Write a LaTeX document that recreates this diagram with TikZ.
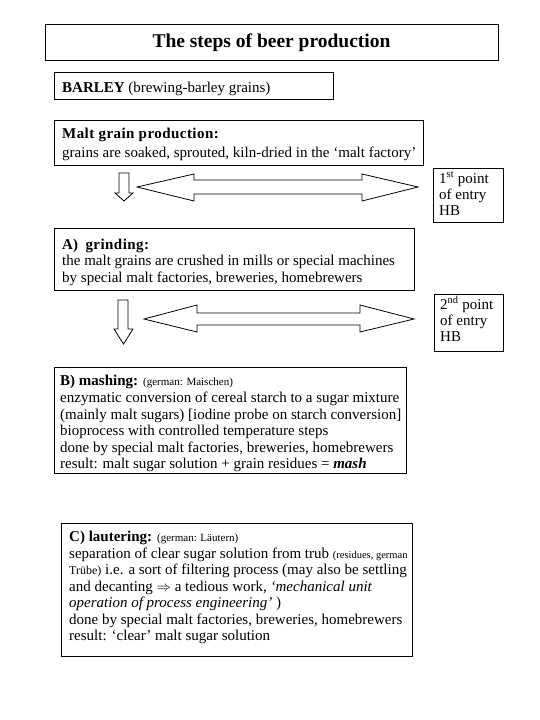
\documentclass[tikz,border=0pt]{standalone}
\usepackage{fontspec}
\setmainfont{Liberation Serif}
\newcommand{\smtxt}[1]{{\fontsize{11}{12}\selectfont #1}}
\newcommand{\spaced}[1]{{\addfontfeatures{LetterSpace=3}#1}}
\begin{document}
\begin{tikzpicture}[x=1pt,y=-1pt,
  frame/.style={draw, line width=0.9pt, inner sep=0pt, anchor=north west},
  txt/.style={anchor=base west, inner sep=0pt, font=\fontsize{15}{18}\selectfont},
  hd/.style={anchor=base west, inner sep=0pt, font=\fontsize{15}{18}\selectfont\bfseries},
  barrow/.style={draw, line width=0.8pt, fill=white, line join=miter}]
\useasboundingbox[fill=white] (0,0) rectangle (540,720);

% title
\node[frame, minimum width=453, minimum height=36] (title) at (45,24) {};
\node[anchor=base, inner sep=0pt, font=\fontsize{19.5}{22}\selectfont\bfseries] (titletext) at (271.5,47) {The steps of beer production};

% barley
\node[frame, minimum width=279, minimum height=27] (barley) at (54,72) {};
\node[txt] (barleytext) at (62,92) {\textbf{BARLEY} (brewing-barley grains)};

% malt
\node[frame, minimum width=369, minimum height=45] (malt) at (54,120) {};
\node[hd] (malt1) at (62,138) {\spaced{Malt grain production:}};
\node[txt] (malt2) at (62,157) {grains are soaked, sprouted, kiln-dried in the ‘malt factory’};

% first entry
\node[frame, minimum width=70, minimum height=54] (entry1) at (433,168) {};
\node[txt] (e11) at (439,183) {1\textsuperscript{st}\ point};
\node[txt] (e12) at (439,199) {of entry};
\node[txt] (e13) at (439,215) {HB};

% arrows 1
\draw[barrow] (119,173) -- (129,173) -- (129,193) -- (133,193) -- (124,201) -- (115,193) -- (119,193) -- cycle;
\draw[barrow] (137,187) -- (194,174) -- (194,180) -- (362,180) -- (362,174) -- (418,187)
  -- (362,201) -- (362,194) -- (194,194) -- (194,201) -- cycle;

% grinding
\node[frame, minimum width=360, minimum height=62] (grind) at (54,228) {};
\node[hd] (g1) at (62,249) {A)\ \ \spaced{grinding:}};
\node[txt] (g2) at (62,265) {the malt grains are crushed in mills or special machines};
\node[txt] (g3) at (62,282) {by special malt factories, breweries, homebrewers};

% second entry
\node[frame, minimum width=69, minimum height=57] (entry2) at (434,294) {};
\node[txt] (e21) at (440,309) {2\textsuperscript{nd} point};
\node[txt] (e22) at (440,325) {of entry};
\node[txt] (e23) at (440,341) {HB};

% arrows 2
\draw[barrow] (118,300) -- (128,300) -- (128,329) -- (133,329) -- (123.5,344) -- (114,329) -- (118,329) -- cycle;
\draw[barrow] (144,319) -- (197,305) -- (197,313) -- (360,313) -- (360,305) -- (414,319)
  -- (360,332) -- (360,325) -- (197,325) -- (197,332) -- cycle;

% mashing
\node[frame, minimum width=352, minimum height=106] (mash) at (54,367) {};
\node[hd] (m1) at (60,385) {B) mashing: \mdseries\smtxt{(german: Maischen)}};
\node[txt] (m2) at (60,402) {enzymatic conversion of cereal starch to a sugar mixture};
\node[txt] (m3) at (60,419) {(mainly malt sugars) [iodine probe on starch conversion]};
\node[txt] (m4) at (60,435.5) {bioprocess with controlled temperature steps};
\node[txt] (m5) at (60,452) {done by special malt factories, breweries, homebrewers};
\node[txt] (m6) at (60,468.5) {result: malt sugar solution + grain residues = \textbf{\textit{mash}}};

% lautering
\node[frame, minimum width=351, minimum height=133] (laut) at (61,523) {};
\node[hd] (l1) at (69,541) {C) lautering: \mdseries\smtxt{(german: Läutern)}};
\node[txt] (l2) at (69,558) {separation of clear sugar solution from trub {\fontsize{10.5}{12}\selectfont(residues, german}};
\node[txt] (l3) at (69,574.5) {{\fontsize{12}{14}\selectfont Trübe)} i.e. a sort of filtering process (may also be settling};
\node[txt] (l4) at (69,591) {and decanting $\Rightarrow$ a tedious work, \textit{‘mechanical unit}};
\node[txt] (l5) at (69,607.5) {\textit{operation of process engineering’} )};
\node[txt] (l6) at (69,624) {done by special malt factories, breweries, homebrewers};
\node[txt] (l7) at (69,640) {result: ‘clear’ malt sugar solution};
\end{tikzpicture}
\end{document}
